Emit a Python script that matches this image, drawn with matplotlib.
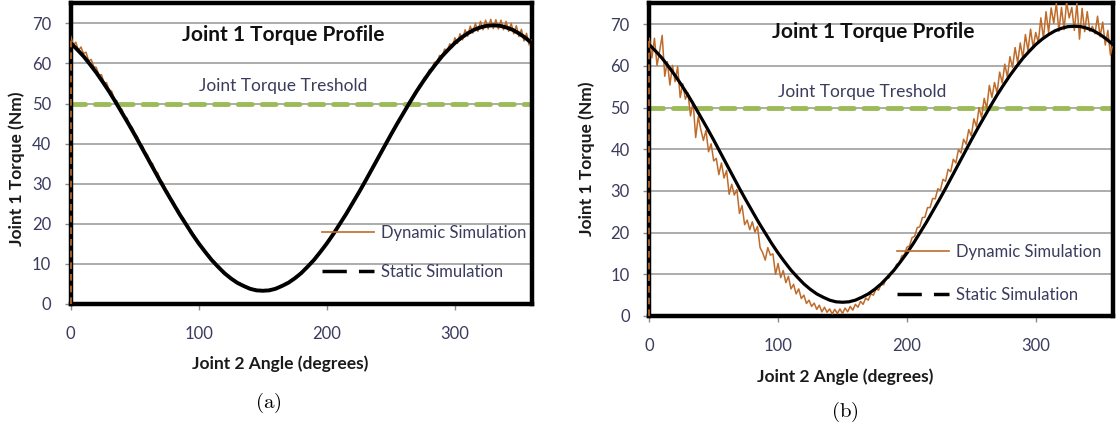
import numpy as np
import matplotlib
matplotlib.use("Agg")
import matplotlib.pyplot as plt
from matplotlib.lines import Line2D

plt.rcParams["font.family"] = ["Lato", "DejaVu Sans"]
plt.rcParams["mathtext.fontset"] = "cm"

# static simulation, every 5 degrees
static_angle = list(range(0, 361, 5))
static_torque = [
    65.1, 63.5, 61.8, 59.8, 57.7, 55.4, 53.0, 50.4, 47.7, 45.0, 42.2, 39.3,
    36.4, 33.5, 30.6, 27.8, 25.1, 22.4, 19.9, 17.4, 15.1, 13.0, 11.0, 9.3,
    7.7, 6.4, 5.3, 4.5, 3.8, 3.4, 3.3, 3.4, 3.8, 4.5, 5.3, 6.4, 7.7, 9.3,
    11.0, 13.0, 15.1, 17.4, 19.9, 22.4, 25.1, 27.8, 30.6, 33.5, 36.4, 39.3,
    42.2, 45.0, 47.7, 50.4, 53.0, 55.4, 57.7, 59.8, 61.8, 63.5, 65.1, 66.4,
    67.5, 68.4, 69.0, 69.4, 69.5, 69.4, 69.0, 68.4, 67.5, 66.4, 65.1,
]

# dynamic simulation, every 2 degrees
dyn_angle = list(range(0, 361, 2))
dyn_a = [
    66.8, 64.6, 65.3, 63.2, 64.1, 62.5, 62.8, 60.6, 61.0, 59.2, 59.0, 57.1,
    57.2, 55.2, 55.2, 53.4, 53.1, 51.0, 50.7, 48.9, 48.6, 46.8, 46.4, 44.6,
    44.1, 42.5, 41.8, 40.2, 39.5, 37.9, 37.2, 35.5, 35.0, 33.1, 32.7, 30.8,
    30.3, 28.6, 27.9, 26.3, 25.6, 24.2, 23.5, 22.0, 21.4, 20.0, 19.3, 18.0,
    17.3, 16.1, 15.5, 14.3, 13.8, 12.6, 12.2, 11.1, 10.7, 9.7, 9.4, 8.4,
    8.1, 7.3, 7.0, 6.3, 6.0, 5.4, 5.3, 4.7, 4.6, 4.1, 4.1, 3.6,
    3.8, 3.4, 3.6, 3.3, 3.6, 3.4, 3.8, 3.6, 4.1, 4.1, 4.6, 4.6,
    5.3, 5.3, 6.0, 6.2, 7.0, 7.2, 8.0, 8.3, 9.3, 9.6, 10.6, 11.0,
    12.1, 12.5, 13.7, 14.2, 15.4, 16.0, 17.2, 17.9, 19.2, 19.9, 21.2, 21.9,
    23.3, 24.0, 25.4, 26.2, 27.5, 28.4, 29.8, 30.6, 32.1, 32.9, 34.4, 35.2,
    36.7, 37.6, 39.0, 39.9, 41.3, 42.2, 43.6, 44.4, 45.9, 46.6, 48.1, 48.8,
    50.2, 50.9, 52.4, 53.0, 54.5, 54.9, 56.5, 56.7, 58.4, 58.5, 60.3, 60.1,
    62.0, 61.6, 63.6, 62.9, 64.9, 64.0, 66.4, 65.0, 67.4, 65.9, 68.4, 66.8,
    69.3, 67.6, 70.0, 68.0, 70.5, 68.4, 70.8, 68.6, 71.0, 68.7, 70.9, 68.6,
    70.8, 68.4, 70.5, 68.0, 70.0, 67.4, 69.4, 66.7, 68.5, 65.6, 67.5, 64.6,
    65.8,
]
dyn_b = [
    66.6, 61.9, 66.6, 60.1, 63.5, 67.3, 57.5, 61.0, 55.4, 60.1, 56.2, 59.8,
    52.4, 55.7, 52.0, 53.5, 48.0, 51.4, 42.8, 47.8, 44.7, 42.1, 44.5, 39.4,
    41.3, 37.2, 37.8, 33.9, 36.7, 33.1, 34.9, 29.2, 31.6, 29.0, 30.3, 24.6,
    26.5, 21.9, 23.0, 20.7, 22.6, 20.1, 21.5, 16.4, 15.2, 13.4, 16.4, 14.6,
    14.9, 10.0, 12.6, 9.2, 10.9, 8.0, 9.5, 6.5, 7.6, 5.3, 6.5, 4.2,
    5.0, 3.0, 3.8, 2.3, 3.1, 1.6, 2.6, 1.0, 2.1, 0.9, 1.7, 0.5,
    1.6, 0.6, 1.7, 0.6, 1.9, 1.0, 2.3, 1.4, 2.8, 2.1, 3.5, 2.8,
    4.3, 3.8, 5.3, 5.0, 6.5, 6.2, 7.6, 7.5, 9.1, 9.1, 10.6, 10.7,
    12.4, 12.6, 14.4, 14.7, 16.5, 16.8, 18.8, 19.1, 21.2, 21.4, 23.6, 23.7,
    26.0, 26.0, 28.2, 28.1, 30.5, 30.2, 32.8, 32.3, 35.2, 34.6, 37.6, 36.7,
    39.9, 39.1, 42.4, 41.2, 44.7, 43.2, 47.3, 45.4, 50.0, 47.6, 52.2, 49.8,
    55.3, 52.4, 56.0, 53.5, 58.5, 55.9, 60.4, 57.3, 62.2, 59.6, 64.4, 60.7,
    65.5, 61.8, 67.5, 63.6, 68.8, 64.4, 68.0, 65.6, 71.5, 66.5, 73.0, 68.0,
    73.9, 70.2, 75.0, 68.3, 74.0, 68.7, 75.3, 71.5, 74.0, 68.5, 75.0, 66.4,
    73.8, 68.2, 73.0, 68.3, 69.5, 67.7, 71.9, 67.0, 70.5, 65.0, 68.5, 62.6,
    65.6,
]

threshold = 50
yticks = [0, 10, 20, 30, 40, 50, 60, 70]
xticks = [0, 100, 200, 300]

orange = "#bf6b2a"
green = "#9bbb59"
txt = "#3b3b5e"

fig = plt.figure(figsize=(11.2, 4.29), dpi=100)
axA = fig.add_axes([70.7 / 1120, 125 / 429, 461 / 1120, 300.7 / 429])
axB = fig.add_axes([649.3 / 1120, 113 / 429, 463.7 / 1120, 312.7 / 429])

panels = [
    (axA, dyn_a, 2.8, (0.454, -0.172), (-0.099, 0.451), (0.462, 0.895),
     (165.7, 52.4), (0.545, 0.263), 1.4),
    (axB, dyn_b, 2.3, (0.422, -0.168), (-0.117, 0.502), (0.482, 0.908),
     (165.4, 51.8), (0.534, 0.230), 1.6),
]

for ax, dyn, slw, xl, yl, tl, thr, lg, lsp in panels:
    ax.set_xlim(0, 360)
    ax.set_ylim(0, 75)
    for y in yticks[1:]:
        ax.axhline(y, color="#a6a6a6", lw=1.3, zorder=1)
    ax.axhline(threshold, color=green, lw=3.5, dashes=(2.9, 2.0),
               dash_capstyle="round", zorder=2)
    ax.plot(dyn_angle, dyn, color=orange, lw=1.1, zorder=3)
    ax.plot(static_angle, static_torque, color="black", lw=slw, zorder=4)
    ax.vlines(dyn_angle[0], 0, dyn[0], color=orange, lw=1.2,
              linestyles=(0, (4, 3)), zorder=5, clip_on=False)

    for s in ax.spines.values():
        s.set_linewidth(3.2)
        s.set_color("black")
    ax.set_xticks(xticks)
    ax.set_yticks(yticks)
    ax.tick_params(axis="both", colors="#8c8c8c", length=4, width=1,
                   labelcolor=txt, labelsize=12)
    ax.tick_params(axis="x", pad=12)
    ax.tick_params(axis="y", pad=10)

    ax.set_xlabel("Joint 2 Angle (degrees)", fontsize=12.5,
                  fontweight="bold", color="#1a1a1a")
    ax.xaxis.set_label_coords(*xl)
    ax.set_ylabel("Joint 1 Torque (Nm)", fontsize=12.5,
                  fontweight="bold", color="#1a1a1a")
    ax.yaxis.set_label_coords(*yl)

    ax.text(tl[0], tl[1], "Joint 1 Torque Profile", transform=ax.transAxes,
            ha="center", va="center", fontsize=15, fontweight="bold",
            color="#111111")
    ax.text(thr[0], thr[1], "Joint Torque Treshold", ha="center",
            va="bottom", fontsize=12.5, color=txt)

    handles = [
        Line2D([], [], color=orange, lw=1.2),
        Line2D([], [], color="black", lw=2.5, dashes=(7, 3.5)),
    ]
    ax.legend(handles, ["Dynamic Simulation", "Static Simulation"],
              loc="upper left", bbox_to_anchor=lg, frameon=False,
              fontsize=12, labelcolor=txt, handlelength=3.1,
              handletextpad=0.45, labelspacing=lsp, borderpad=0,
              borderaxespad=0)

fig.text(268 / 1120, 1 - 403 / 429, r"$\mathrm{(a)}$", ha="center",
         va="center", fontsize=15)
fig.text(845 / 1120, 1 - 412 / 429, r"$\mathrm{(b)}$", ha="center",
         va="center", fontsize=15)

fig.savefig("out.png", dpi=100, facecolor="white")
